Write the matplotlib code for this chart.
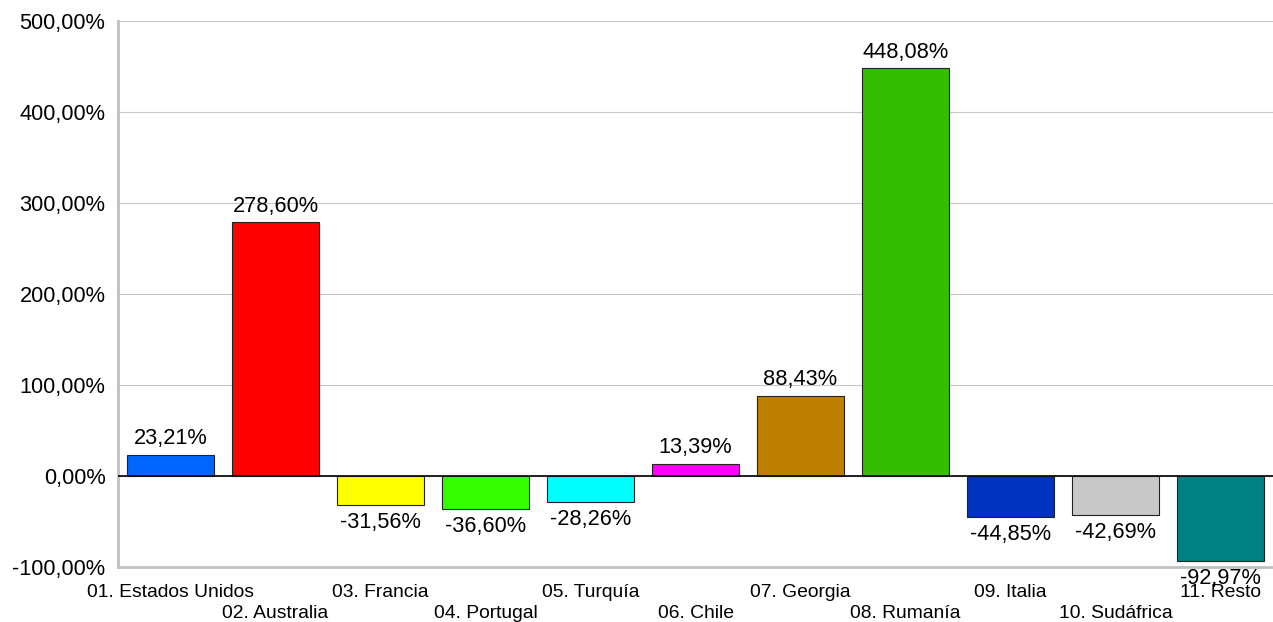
import matplotlib
matplotlib.use("Agg")
import matplotlib.pyplot as plt
from matplotlib.ticker import FuncFormatter

categories = ["01. Estados Unidos", "02. Australia", "03. Francia", "04. Portugal",
              "05. Turquía", "06. Chile", "07. Georgia", "08. Rumanía",
              "09. Italia", "10. Sudáfrica", "11. Resto"]
values = [23.21, 278.60, -31.56, -36.60, -28.26, 13.39, 88.43, 448.08, -44.85, -42.69, -92.97]
colors = ["#0066FF", "#FF0000", "#FFFF00", "#33FF00", "#00FFFF", "#FF00FF",
          "#BF8000", "#33BF00", "#0033BF", "#C8C8C8", "#008080"]
yticks = [-100, 0, 100, 200, 300, 400, 500]

plt.rcParams['font.family'] = ['Liberation Sans', 'DejaVu Sans']
fig = plt.figure(figsize=(12.73, 6.22), dpi=100)
ax = fig.add_axes([118/1273, 1-567/622, (1273-118)/1273, (567-21)/622])

x = list(range(len(categories)))
ax.bar(x, values, width=0.82, color=colors, edgecolor="#222222", linewidth=0.8, zorder=3)
ax.set_xlim(-0.5, len(categories)-0.5)
ax.set_ylim(-100, 500)
ax.set_yticks(yticks)
ax.yaxis.set_major_formatter(FuncFormatter(lambda v, p: f"{v:.2f}".replace(".", ",") + "%"))
ax.grid(axis="y", color="#C8C8C8", linewidth=0.8, zorder=0)
ax.axhline(0, color="#111111", linewidth=1.3, zorder=4)
for s in ["top", "right"]:
    ax.spines[s].set_visible(False)
for s in ["left", "bottom"]:
    ax.spines[s].set_color("#C0C0C0")
    ax.spines[s].set_linewidth(2)
ax.tick_params(axis="y", length=0, labelsize=15.7, pad=9)
ax.tick_params(axis="x", length=0)
ax.set_xticks(x)
ax.set_xticklabels([])
for i, c in enumerate(categories):
    off = -12 if i % 2 == 0 else -27
    ax.annotate(c, (i, -100), xytext=(0, off), textcoords="offset points",
                ha="center", va="top", fontsize=13.9, annotation_clip=False)
for i, v in enumerate(values):
    lbl = f"{v:.2f}".replace(".", ",") + "%"
    if v >= 0:
        ax.annotate(lbl, (i, v), xytext=(0, 4), textcoords="offset points",
                    ha="center", va="bottom", fontsize=15.7, zorder=5)
    else:
        ax.annotate(lbl, (i, v), xytext=(0, -5), textcoords="offset points",
                    ha="center", va="top", fontsize=15.7, zorder=5, annotation_clip=False)
fig.savefig("out.png", dpi=100)
